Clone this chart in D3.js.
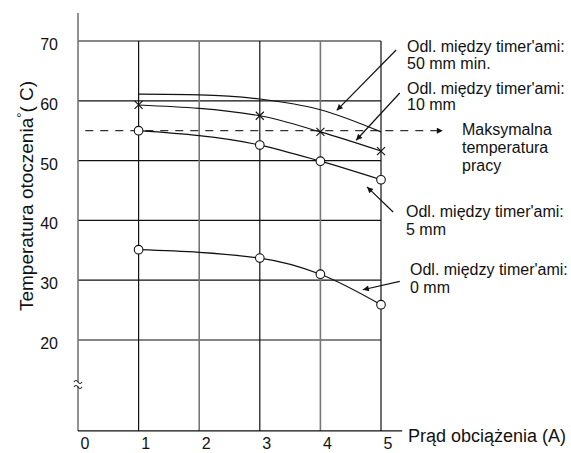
<!DOCTYPE html>
<html>
<head>
<meta charset="utf-8">
<script src="https://cdn.jsdelivr.net/npm/d3@7"></script>
<style>
  body { margin: 0; background: #fff; }
  text { font-family: "Liberation Sans", Arial, sans-serif; fill: #111; }
</style>
</head>
<body>
<script>
var W = 571, H = 453;

// data
var xTicks = [0, 1, 2, 3, 4, 5];
var yTicks = [20, 30, 40, 50, 60, 70];
var maxTemp = 55;

var xs50 = [1, 2, 3, 4, 5];
var t50 = [61.1, 61.0, 60.3, 58.5, 54.8];
var xs10 = [1, 3, 4, 5];
var t10 = [59.3, 57.5, 54.8, 51.6];
var xs5 = [1, 3, 4, 5];
var t5 = [55.0, 52.6, 49.9, 46.8];
var xs0 = [1, 3, 4, 5];
var t0 = [35.1, 33.7, 31.0, 25.9];

var labels = [
  ["Odl. między timer'ami:", "50 mm min."],
  ["Odl. między timer'ami:", "10 mm"],
  ["Maksymalna", "temperatura", "pracy"],
  ["Odl. między timer'ami:", "5 mm"],
  ["Odl. między timer'ami:", "0 mm"]
];

var x = d3.scaleLinear().domain([0, 5]).range([78, 381]);
var y = d3.scaleLinear().domain([20, 70]).range([340, 41]);

var svg = d3.select("body").append("svg")
  .attr("width", W)
  .attr("height", H);

// grid
svg.selectAll(".hgrid")
  .data(yTicks)
  .enter().append("line")
  .attr("x1", x(0)).attr("x2", x(5))
  .attr("y1", function(d) { return y(d); })
  .attr("y2", function(d) { return y(d); })
  .attr("stroke", "#111").attr("stroke-width", 1.2);

svg.selectAll(".vgrid")
  .data(xTicks.slice(1))
  .enter().append("line")
  .attr("x1", function(d) { return x(d); })
  .attr("x2", function(d) { return x(d); })
  .attr("y1", y(70)).attr("y2", y(4.8))
  .attr("stroke", function(d) { return d % 2 == 0 ? "#777" : "#111"; })
  .attr("stroke-width", function(d) { return d % 2 == 0 ? 1.6 : 1.2; });

// axes
svg.append("line")
  .attr("x1", x(0)).attr("x2", x(0))
  .attr("y1", y(74.7)).attr("y2", y(4.8))
  .attr("stroke", "#777").attr("stroke-width", 1.6);
svg.append("line")
  .attr("x1", x(0)).attr("x2", x(5.35))
  .attr("y1", y(4.8)).attr("y2", y(4.8))
  .attr("stroke", "#111").attr("stroke-width", 1.2);

// axis break
var by = y(12.8);
svg.append("rect").attr("x", x(0) - 3).attr("y", by - 1).attr("width", 6).attr("height", 4).attr("fill", "#fff");
[by - 2, by + 3].forEach(function(yy) {
  svg.append("path")
    .attr("d", "M" + (x(0) - 4) + "," + (yy + 1) + " q2,-3 4,0 t4,0")
    .attr("fill", "none").attr("stroke", "#222").attr("stroke-width", 1.1);
});

// tick labels
svg.selectAll(".yl")
  .data(yTicks)
  .enter().append("text")
  .attr("x", 58)
  .attr("y", function(d) { return y(d) + 9; })
  .attr("text-anchor", "end")
  .style("font-size", "16px")
  .text(function(d) { return d; });

svg.selectAll(".xl")
  .data(xTicks)
  .enter().append("text")
  .attr("x", function(d) { return x(d) + 7; })
  .attr("y", 449)
  .attr("text-anchor", "middle")
  .style("font-size", "16px")
  .text(function(d) { return d; });

// axis titles
svg.append("text")
  .attr("x", 408).attr("y", 442)
  .style("font-size", "18px")
  .text("Prąd obciążenia (A)");

var yt = svg.append("text")
  .attr("transform", "translate(33,196) rotate(-90)")
  .attr("text-anchor", "middle")
  .style("font-size", "19px");
yt.append("tspan").text("Temperatura otoczenia");
yt.append("tspan").attr("dy", -7).style("font-size", "13px").text("°");
yt.append("tspan").attr("dy", 7).text("( C)");

// max temperature line
svg.append("defs").append("marker")
  .attr("id", "ah").attr("viewBox", "0 0 10 10")
  .attr("refX", 10).attr("refY", 5)
  .attr("markerWidth", 11).attr("markerHeight", 6)
  .attr("markerUnits", "userSpaceOnUse")
  .attr("orient", "auto")
  .append("path").attr("d", "M0,0 L10,5 L0,10 Z").attr("fill", "#111");

svg.append("line")
  .attr("x1", x(0.12)).attr("x2", x(6.02))
  .attr("y1", y(maxTemp)).attr("y2", y(maxTemp))
  .attr("stroke", "#333").attr("stroke-width", 1.2)
  .attr("stroke-dasharray", "8,7")
  .attr("marker-end", "url(#ah)");

// curves
var line = d3.line()
  .curve(d3.curveMonotoneX)
  .x(function(d) { return x(d[0]); })
  .y(function(d) { return y(d[1]); });

function pts(xs, ts) { return xs.map(function(v, i) { return [v, ts[i]]; }); }

var series = [pts(xs50, t50), pts(xs10, t10), pts(xs5, t5), pts(xs0, t0)];
series.forEach(function(s) {
  svg.append("path")
    .attr("d", line(s))
    .attr("fill", "none").attr("stroke", "#111").attr("stroke-width", 1.2);
});

// markers
pts(xs10, t10).forEach(function(p) {
  var cx = x(p[0]), cy = y(p[1]), r = 4;
  svg.append("path")
    .attr("d", "M" + (cx - r) + "," + (cy - r) + "L" + (cx + r) + "," + (cy + r) +
               "M" + (cx - r) + "," + (cy + r) + "L" + (cx + r) + "," + (cy - r))
    .attr("stroke", "#111").attr("stroke-width", 1.1);
});
pts(xs5, t5).concat(pts(xs0, t0)).forEach(function(p) {
  svg.append("circle")
    .attr("cx", x(p[0])).attr("cy", y(p[1])).attr("r", 4.3)
    .attr("fill", "#fff").attr("stroke", "#111").attr("stroke-width", 1.1);
});

// annotation arrows (data units)
var arrows = [
  [[5.25, 68.5], [4.27, 58.4]],
  [[5.31, 61.3], [4.59, 53.4]],
  [[5.20, 41.4], [4.77, 45.6]],
  [[5.31, 29.8], [4.70, 28.4]]
];
arrows.forEach(function(a) {
  svg.append("line")
    .attr("x1", x(a[0][0])).attr("y1", y(a[0][1]))
    .attr("x2", x(a[1][0])).attr("y2", y(a[1][1]))
    .attr("stroke", "#111").attr("stroke-width", 1.2)
    .attr("marker-end", "url(#ah)");
});

// annotation labels
var labelPos = [[407, 52, 17], [407, 94, 16], [462, 135, 18], [406, 217, 18], [410, 275, 18]];
labels.forEach(function(lines, i) {
  var t = svg.append("text")
    .attr("x", labelPos[i][0]).attr("y", labelPos[i][1])
    .style("font-size", "16px");
  lines.forEach(function(s, j) {
    t.append("tspan")
      .attr("x", labelPos[i][0])
      .attr("dy", j == 0 ? 0 : labelPos[i][2])
      .text(s);
  });
});
</script>
</body>
</html>
